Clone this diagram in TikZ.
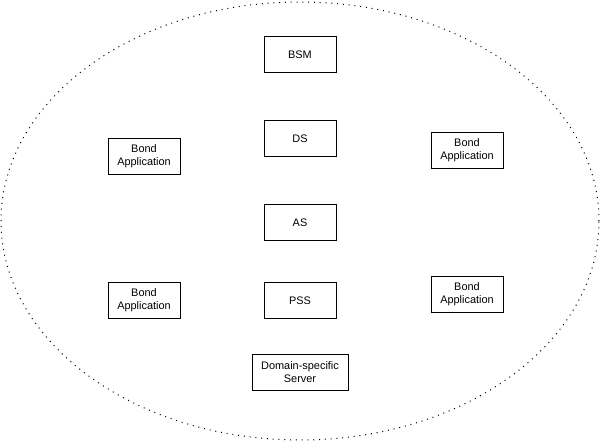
\documentclass[tikz,border=0pt]{standalone}
\usepackage{fontspec}
\setmainfont{Liberation Sans}
\usetikzlibrary{shapes.geometric}
\begin{document}
\begin{tikzpicture}[x=0.75pt,y=-0.75pt,
  box/.style={draw,line width=0.75pt,inner sep=0pt,align=center,minimum width=54pt,minimum height=27pt,font=\fontsize{8.2}{9.6}\selectfont},
  ring/.style={line width=0.75pt,dash pattern=on 0.75pt off 3.6pt}]
\useasboundingbox (0,0) rectangle (601,444);
\node[ring,draw,ellipse,minimum width=448.5pt,minimum height=328.5pt,inner sep=0pt] (ring) at (300,221) {};
\node[box] (bsm) at (300,54.5) {BSM};
\node[box] (ds) at (300,138.5) {DS};
\node[box] (as) at (300,222.5) {AS};
\node[box] (pss) at (300,300.5) {PSS};
\node[box,minimum width=72pt] (dss) at (300,372) {Domain-specific\\Server};
\node[box] (ba1) at (144,156) {Bond\\Application};
\node[box] (ba2) at (467,150) {Bond\\Application};
\node[box] (ba3) at (144,300) {Bond\\Application};
\node[box] (ba4) at (467,294) {Bond\\Application};
\end{tikzpicture}
\end{document}
